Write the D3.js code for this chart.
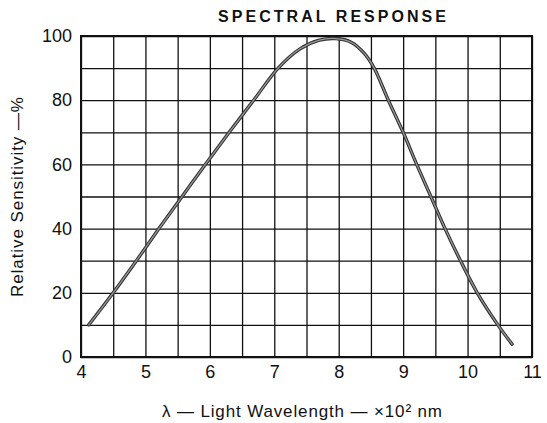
<!DOCTYPE html>
<html><head><meta charset="utf-8">
<script src="https://cdn.jsdelivr.net/npm/d3@7"></script>
<style>
html,body{margin:0;padding:0;background:#fff;}
svg{display:block;}
text{font-family:"Liberation Sans",Arial,sans-serif;fill:#111;}
</style></head>
<body>
<svg id="chart" width="547" height="423"></svg>
<script>
const title = "SPECTRAL RESPONSE";
const xLabel = "λ — Light Wavelength — ×10² nm";
const yLabel = "Relative Sensitivity —%";
const xTicks = [4,5,6,7,8,9,10,11];
const yTicks = [0,20,40,60,80,100];
const wavelength  = [4.12, 4.5, 4.86, 5.21, 5.57, 5.93, 6.3, 6.68, 7.06, 7.4, 7.7, 7.95, 8.2, 8.4, 8.55, 8.77, 9.0, 9.21, 9.43, 9.65, 9.89, 10.15, 10.47, 10.69];
const sensitivity = [10, 20, 30, 40, 50, 60, 70, 80, 90, 96, 98.7, 99.2, 98, 94.5, 90, 80, 70, 60, 50, 40, 30, 20, 10, 4];

const svg = d3.select("#chart");
const L = 81, R = 532, T = 36, B = 357;
const x = d3.scaleLinear().domain([4, 11]).range([L, R]);
const y = d3.scaleLinear().domain([0, 100]).range([B, T]);

// grid
const gx = svg.append("g").attr("transform", `translate(0,${B})`)
  .call(d3.axisBottom(x).tickValues(d3.range(4, 11.001, 0.5)).tickSize(-(B - T)).tickFormat(""));
const gy = svg.append("g").attr("transform", `translate(${L},0)`)
  .call(d3.axisLeft(y).tickValues(d3.range(0, 100.001, 10)).tickSize(-(R - L)).tickFormat(""));
[gx, gy].forEach(g => {
  g.select(".domain").remove();
  g.selectAll(".tick line").attr("stroke", "#111").attr("stroke-width", 1.3);
});
svg.append("rect").attr("x", L).attr("y", T).attr("width", R - L).attr("height", B - T)
  .attr("fill", "none").attr("stroke", "#111").attr("stroke-width", 2);

// tick labels
const ax = svg.append("g").attr("transform", `translate(0,${B})`)
  .call(d3.axisBottom(x).tickValues(xTicks).tickSize(0).tickPadding(6).tickFormat(d3.format("d")));
ax.select(".domain").remove();
ax.selectAll("text").attr("font-size", 18).attr("fill", "#111").attr("dy", "0.85em")
  .style("font-family", '"Liberation Sans",Arial,sans-serif');
const ay = svg.append("g").attr("transform", `translate(${L},0)`)
  .call(d3.axisLeft(y).tickValues(yTicks).tickSize(0).tickPadding(9).tickFormat(d3.format("d")));
ay.select(".domain").remove();
ay.selectAll("text").attr("font-size", 18).attr("fill", "#111")
  .style("font-family", '"Liberation Sans",Arial,sans-serif');

// curve
const pts = wavelength.map((w, i) => [w, sensitivity[i]]);
const line = d3.line().x(d => x(d[0])).y(d => y(d[1])).curve(d3.curveCatmullRom.alpha(0.5));
svg.append("path").datum(pts).attr("d", line).attr("fill", "none")
  .attr("stroke", "#333").attr("stroke-width", 3.4).attr("stroke-linecap", "round");
svg.append("path").datum(pts).attr("d", line).attr("fill", "none")
  .attr("stroke", "#9a9a9a").attr("stroke-width", 1.2).attr("stroke-linecap", "round");

// titles
svg.append("text").attr("x", 332).attr("y", 22).attr("text-anchor", "middle")
  .attr("font-size", 16).attr("font-weight", "bold")
  .attr("textLength", 228).attr("lengthAdjust", "spacing").text(title);
svg.append("text").attr("x", 302).attr("y", 417).attr("text-anchor", "middle")
  .attr("font-size", 17).attr("textLength", 280).attr("lengthAdjust", "spacing").text(xLabel);
svg.append("text").attr("transform", "translate(23,197) rotate(-90)").attr("text-anchor", "middle")
  .attr("font-size", 17).attr("textLength", 200).attr("lengthAdjust", "spacing").text(yLabel);
</script>
</body></html>
